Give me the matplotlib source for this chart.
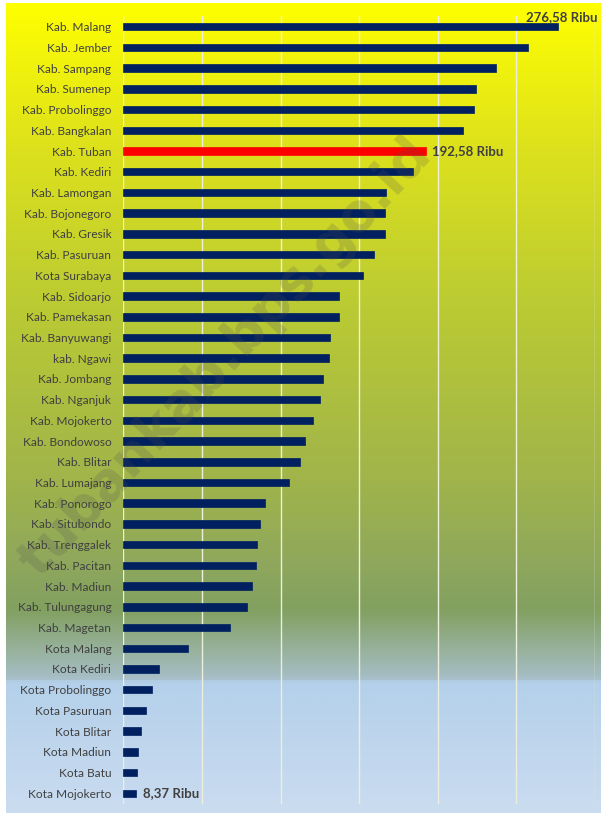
import numpy as np
import matplotlib.pyplot as plt
from matplotlib.colors import LinearSegmentedColormap

plt.rcParams['font.family'] = ['Lato', 'DejaVu Sans']

regions = ['Kab. Malang', 'Kab. Jember', 'Kab. Sampang', 'Kab. Sumenep', 'Kab. Probolinggo',
           'Kab. Bangkalan', 'Kab. Tuban', 'Kab. Kediri', 'Kab. Lamongan', 'Kab. Bojonegoro',
           'Kab. Gresik', 'Kab. Pasuruan', 'Kota Surabaya', 'Kab. Sidoarjo', 'Kab. Pamekasan',
           'Kab. Banyuwangi', 'kab. Ngawi', 'Kab. Jombang', 'Kab. Nganjuk', 'Kab. Mojokerto',
           'Kab. Bondowoso', 'Kab. Blitar', 'Kab. Lumajang', 'Kab. Ponorogo', 'Kab. Situbondo',
           'Kab. Trenggalek', 'Kab. Pacitan', 'Kab. Madiun', 'Kab. Tulungagung', 'Kab. Magetan',
           'Kota Malang', 'Kota Kediri', 'Kota Probolinggo', 'Kota Pasuruan', 'Kota Blitar',
           'Kota Madiun', 'Kota Batu', 'Kota Mojokerto']

# penduduk miskin (ribu jiwa)
values = [276.58, 257.3, 237.3, 224.6, 223.3,
          215.9, 192.58, 184.5, 166.9, 166.7,
          166.5, 159.7, 152.7, 137.2, 137.0,
          131.2, 130.7, 127.3, 125.3, 120.7,
          115.3, 112.7, 105.3, 89.9, 87.0,
          85.0, 84.2, 81.6, 78.7, 67.9,
          40.9, 22.6, 18.0, 14.2, 11.4,
          9.1, 8.7, 8.37]

highlight = 'Kab. Tuban'

fig = plt.figure(figsize=(6.01, 8.13), dpi=100)

# background gradient (yellow -> olive -> light blue)
bg = fig.add_axes([6 / 601, 0, 1 - 6 / 601, 1 - 3 / 813])
bg.set_axis_off()
stops = [(0.0, '#ffff00'), (0.18, '#dde11c'), (0.37, '#bbcb33'), (0.59, '#a0b44a'),
         (0.69, '#8fa85c'), (0.75, '#82a060'), (0.835, '#a6bec6'), (0.84, '#b4d0ea'),
         (1.0, '#cadcf0')]
cmap = LinearSegmentedColormap.from_list('bg', stops)
grad = np.linspace(0, 1, 512).reshape(-1, 1)
bg.imshow(grad, aspect='auto', cmap=cmap, extent=[0, 1, 0, 1])

# watermark
fig.text(0.375, 0.56, 'tubankab.bps.go.id', fontsize=38, fontweight='bold',
         family='DejaVu Sans', color='#505050', alpha=0.2, rotation=47,
         ha='center', va='center')

ax = fig.add_axes([123.3 / 601, 1 - 803.6 / 813, 471.6 / 601, 787.2 / 813])
ax.patch.set_alpha(0)
y = np.arange(len(regions))
colors = ['#ff0000' if r == highlight else '#002060' for r in regions]
ax.barh(y, values, height=0.36, color=colors, edgecolor=colors, linewidth=0.5, zorder=3)

ax.set_xlim(0, 300)
ax.set_ylim(len(regions) - 0.5, -0.5)
ax.set_xticks(np.arange(0, 301, 50))
ax.set_xticklabels([])
ax.tick_params(axis='x', length=0)
ax.grid(axis='x', color='#eeeedd', linewidth=1.0, zorder=0)
ax.set_yticks(y)
ax.set_yticklabels(regions, fontsize=8.6, color='#404040')
ax.tick_params(axis='y', length=0, pad=8.6)
for s in ax.spines.values():
    s.set_visible(False)

lbl = dict(fontsize=9.5, fontweight='bold', color='#404040')
ax.text(values[0] + 25, -0.45, '276,58 Ribu', ha='right', va='center', **lbl)
i = regions.index(highlight)
ax.text(values[i] + 4, i, '192,58 Ribu', ha='left', va='center', **lbl)
ax.text(values[-1] + 4, len(regions) - 1, '8,37 Ribu', ha='left', va='center', **lbl)

fig.savefig('out.png', dpi=100)
